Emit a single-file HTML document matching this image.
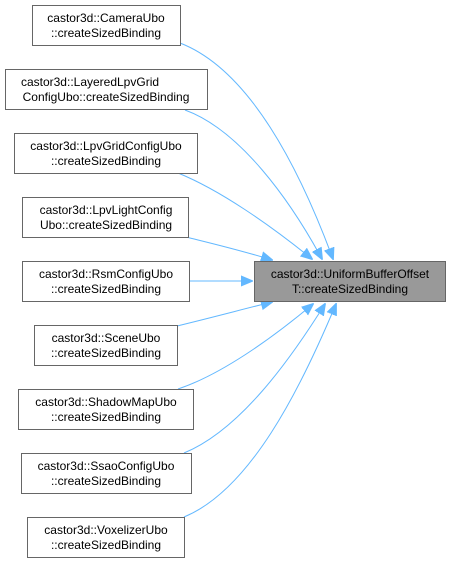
<!DOCTYPE html>
<html><head><meta charset="utf-8"><style>
html,body{margin:0;padding:0;background:#fff;}
svg{display:block;}
text{font-family:"Liberation Sans",Arial,sans-serif;font-size:12px;fill:#000;}
</style></head><body>
<svg width="451" height="563" viewBox="0 0 451 563">
<defs><marker id="a" markerWidth="12" markerHeight="12" refX="11" refY="6" orient="auto" markerUnits="userSpaceOnUse"><path d="M0,1 L12,6 L0,11 Z" fill="#63b8ff" stroke="#63b8ff"/></marker></defs>
<g fill="none" stroke="#63b8ff" stroke-width="1" marker-end="url(#a)">
<path d="M180,43 C250,70 300,170 333,259"/>
<path d="M185,110 C240,130 290,200 322,259"/>
<path d="M178,173 C220,190 270,225 312,259"/>
<path d="M186,237 C210,243 240,250 272,260"/>
<path d="M189,281 L252,281"/>
<path d="M177,326 C210,318 240,310 272,302"/>
<path d="M178,389 C220,375 270,340 313,304"/>
<path d="M184,453 C240,430 290,360 325,304"/>
<path d="M184,517 C250,490 300,390 336,304"/>
</g>
<g stroke="#666" stroke-width="1" fill="#fff">
<rect x="32.5" y="5.5" width="148" height="40"/>
<rect x="5.5" y="69.5" width="202" height="40"/>
<rect x="14.5" y="133.5" width="183" height="40"/>
<rect x="22.5" y="197.5" width="166" height="40"/>
<rect x="22.5" y="261.5" width="167" height="40"/>
<rect x="34.5" y="325.5" width="143" height="40"/>
<rect x="18.5" y="389.5" width="175" height="40"/>
<rect x="21.5" y="453.5" width="170" height="40"/>
<rect x="27.5" y="517.5" width="157" height="40"/>
<rect x="254.5" y="261.5" width="191" height="40" fill="#999"/>
</g>
<g text-anchor="middle">
<text x="106" y="22">castor3d::CameraUbo</text><text x="106" y="37">::createSizedBinding</text>
<text x="90" y="86">castor3d::LayeredLpvGrid</text>
<text x="106" y="101">ConfigUbo::createSizedBinding</text>
<text x="106" y="150">castor3d::LpvGridConfigUbo</text><text x="106" y="165">::createSizedBinding</text>
<text x="106" y="214">castor3d::LpvLightConfig</text><text x="106" y="229">Ubo::createSizedBinding</text>
<text x="106" y="278">castor3d::RsmConfigUbo</text><text x="106" y="293">::createSizedBinding</text>
<text x="106" y="342">castor3d::SceneUbo</text><text x="106" y="357">::createSizedBinding</text>
<text x="106" y="406">castor3d::ShadowMapUbo</text><text x="106" y="421">::createSizedBinding</text>
<text x="106" y="470">castor3d::SsaoConfigUbo</text><text x="106" y="485">::createSizedBinding</text>
<text x="106" y="534">castor3d::VoxelizerUbo</text><text x="106" y="549">::createSizedBinding</text>
<text x="350" y="278">castor3d::UniformBufferOffset</text><text x="350" y="293">T::createSizedBinding</text>
</g>
</svg>
</body></html>
